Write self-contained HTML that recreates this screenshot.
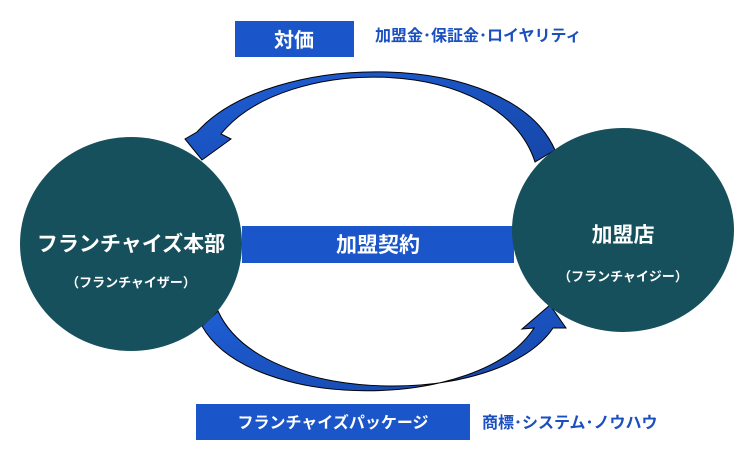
<!DOCTYPE html>
<html><head><meta charset="utf-8"><style>
html,body{margin:0;padding:0;background:#fff;width:740px;height:452px;overflow:hidden}
svg{display:block}
text{font-family:"Liberation Sans","Noto Sans CJK JP",sans-serif;font-weight:bold}
</style></head><body>
<svg width="740" height="452" viewBox="0 0 740 452" xmlns="http://www.w3.org/2000/svg">
<defs>
<linearGradient id="g" x1="0" y1="0" x2="1" y2="1">
<stop offset="0" stop-color="#1f5fd6"/><stop offset="1" stop-color="#1646a8"/>
</linearGradient>
</defs>
<rect x="242" y="226" width="272" height="37" fill="#1a56c9"/>
<text x="378" y="252" font-size="21" fill="#fff" text-anchor="middle">加盟契約</text>
<path d="M555,150 C510,48 270,50 197,132 L185,139 L202,160 L231,139 L221,134 C285,54 500,54 535,162 Z" fill="url(#g)" stroke="#000" stroke-width="1"/>
<path d="M202,326 C250,412 480,412 534,328 L522,329 L550,305 L566,328 L553,328 C500,408 262,408 218,311 Z" fill="url(#g)" stroke="#000" stroke-width="1"/>
<ellipse cx="131" cy="244" rx="111" ry="107" fill="#16505c"/>
<ellipse cx="623" cy="230" rx="111" ry="102" fill="#16505c"/>
<text x="131" y="251" font-size="21" fill="#fff" text-anchor="middle">フランチャイズ本部</text>
<text x="131" y="287" font-size="13" fill="#fff" text-anchor="middle" font-weight="normal">（フランチャイザー）</text>
<text x="623" y="242" font-size="21" fill="#fff" text-anchor="middle">加盟店</text>
<text x="623" y="281" font-size="13" fill="#fff" text-anchor="middle" font-weight="normal">（フランチャイジー）</text>
<rect x="235" y="21" width="119" height="36" fill="#1a56c9"/>
<text x="294" y="47" font-size="20" fill="#fff" text-anchor="middle">対価</text>
<text x="375" y="41" font-size="16" fill="#1a4fbf">加盟金･保証金･ロイヤリティ</text>
<rect x="196" y="404" width="274" height="36" fill="#1a56c9"/>
<text x="333" y="428" font-size="16" fill="#fff" text-anchor="middle">フランチャイズパッケージ</text>
<text x="482" y="428" font-size="16" fill="#1a4fbf">商標･システム･ノウハウ</text>
</svg>
</body></html>
